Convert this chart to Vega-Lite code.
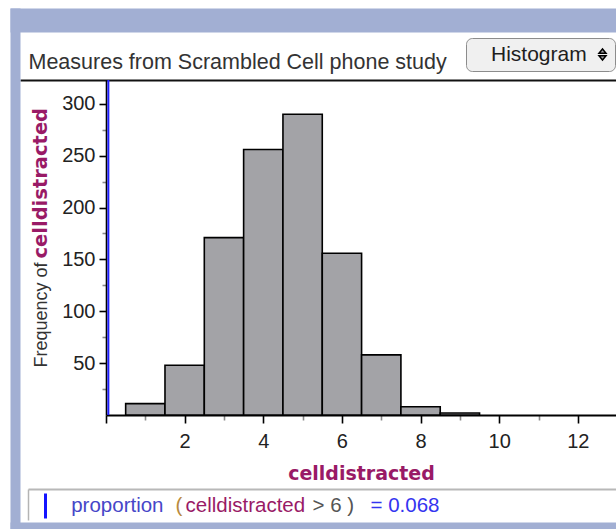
{
  "$schema": "https://vega.github.io/schema/vega-lite/v6.json",
  "width": 510,
  "height": 335,
  "autosize": {"type": "none"},
  "padding": {"left": 106, "top": 80, "right": 0, "bottom": 114},
  "background": "white",
  "config": {"view": {"stroke": null}},
  "resolve": {"scale": {"x": "independent", "y": "independent"}},
  "datasets": {
    "bins": [
      {"bin_start": 0.5, "bin_end": 1.5, "count": 11},
      {"bin_start": 1.5, "bin_end": 2.5, "count": 48},
      {"bin_start": 2.5, "bin_end": 3.5, "count": 171},
      {"bin_start": 3.5, "bin_end": 4.5, "count": 256},
      {"bin_start": 4.5, "bin_end": 5.5, "count": 290},
      {"bin_start": 5.5, "bin_end": 6.5, "count": 156},
      {"bin_start": 6.5, "bin_end": 7.5, "count": 58},
      {"bin_start": 7.5, "bin_end": 8.5, "count": 8},
      {"bin_start": 8.5, "bin_end": 9.5, "count": 2}
    ],
    "marker": [{"marker": 0.06}]
  },
  "layer": [
    {
      "data": {"name": "bins"},
      "mark": {"type": "bar", "stroke": "#000000", "strokeWidth": 1.6},
      "encoding": {
        "x": {
          "field": "bin_start", "type": "quantitative",
          "scale": {"domain": [0, 12.97], "nice": false, "zero": false},
          "axis": {
            "orient": "bottom",
            "values": [0, 1, 2, 3, 4, 5, 6, 7, 8, 9, 10, 11, 12, 1.45, 1.755, 2.009, 5.239, 6.714],
            "labelExpr": "datum.value == 1.45 ? 'proportion' : datum.value == 1.755 ? '(' : datum.value == 2.009 ? 'celldistracted' : datum.value == 5.239 ? '> 6 )' : datum.value == 6.714 ? '= 0.068' : (datum.value > 0 && datum.value % 2 == 0 ? format(datum.value, 'd') : '')",
            "labelOverlap": false,
            "labelFlush": false,
            "labelBound": false,
            "grid": false,
            "domainColor": "#000000",
            "domainWidth": 2,
            "tickColor": {"condition": {"test": "datum.value % 2 == 0", "value": "#000000"}, "value": "#8a8a8a"},
            "tickSize": {"condition": [{"test": "datum.value % 1 != 0", "value": 0}, {"test": "datum.value % 2 == 0", "value": 8}], "value": 5},
            "tickOpacity": {"condition": {"test": "datum.value % 1 != 0", "value": 0}, "value": 1},
            "tickWidth": 1.6,
            "labelFont": "Liberation Sans",
            "labelFontSize": {"condition": {"test": "datum.value % 1 != 0", "value": 20.5}, "value": 20},
            "labelColor": {"condition": [
              {"test": "datum.value == 1.45", "value": "#4646c8"},
              {"test": "datum.value == 1.755", "value": "#b88a40"},
              {"test": "datum.value == 2.009", "value": "#991a66"},
              {"test": "datum.value == 5.239", "value": "#555555"},
              {"test": "datum.value == 6.714", "value": "#3434f0"}
            ], "value": "#222222"},
            "labelAlign": {"condition": [{"test": "datum.value == 1.45", "value": "right"}, {"test": "datum.value % 1 != 0", "value": "left"}], "value": "center"},
            "labelBaseline": {"condition": {"test": "datum.value % 1 != 0", "value": "alphabetic"}, "value": "top"},
            "labelPadding": {"condition": {"test": "datum.value % 1 != 0", "value": 96}, "value": 8},
            "title": "celldistracted",
            "titleFont": "DejaVu Sans",
            "titleFontWeight": "bold",
            "titleFontSize": 19,
            "titleColor": "#991a66",
            "titleX": 255,
            "titleY": 64,
            "titleAlign": "center",
            "titleBaseline": "alphabetic"
          }
        },
        "x2": {"field": "bin_end"},
        "y": {
          "field": "count", "type": "quantitative",
          "scale": {"domain": [0, 323], "nice": false},
          "axis": {
            "orient": "left",
            "values": [25, 50, 75, 100, 125, 150, 175, 200, 225, 250, 275, 300],
            "labelExpr": "datum.value % 50 == 0 ? format(datum.value, 'd') : ''",
            "grid": false,
            "domainColor": "#000000",
            "domainWidth": 1.6,
            "tickColor": {"condition": {"test": "datum.value % 50 == 0", "value": "#000000"}, "value": "#8a8a8a"},
            "tickSize": {"condition": {"test": "datum.value % 50 == 0", "value": 7}, "value": 4},
            "tickWidth": 1.6,
            "labelFont": "Liberation Sans",
            "labelFontSize": 20,
            "labelColor": "#222222",
            "labelPadding": 4,
            "title": "celldistracted",
            "titleFont": "DejaVu Sans",
            "titleFontWeight": "bold",
            "titleFontSize": 19.5,
            "titleColor": "#991a66",
            "titleAngle": -90,
            "titleAlign": "left",
            "titleBaseline": "alphabetic",
            "titleX": -60,
            "titleY": 178
          }
        },
        "y2": {"datum": 0},
        "color": {
          "datum": "Histogram",
          "scale": {"range": ["#a3a3a7"]},
          "legend": {
            "orient": "none",
            "legendX": 360,
            "legendY": -42,
            "title": null,
            "fillColor": "#f0f0f0",
            "strokeColor": "#8c8c8c",
            "cornerRadius": 6,
            "padding": 6,
            "labelFont": "Liberation Sans",
            "labelFontSize": 21,
            "labelColor": "#1e1e1e",
            "labelOffset": -122,
            "symbolType": "M-0.7,-0.25L0,-1.1L0.7,-0.25Z M-0.7,0.25L0,1.1L0.7,0.25Z",
            "symbolSize": 100,
            "symbolOffset": 120,
            "encode": {"symbols": {"update": {"fill": {"value": "#333333"}, "stroke": {"value": "#333333"}, "strokeWidth": {"value": 0.5}}}}
          }
        }
      }
    },
    {
      "data": {"name": "marker"},
      "mark": {"type": "rule", "color": "#1e1eff", "strokeWidth": 2},
      "encoding": {
        "x": {
          "field": "marker", "type": "quantitative",
          "scale": {"domain": [-2.187, 12.97], "range": [-86, 510], "nice": false, "zero": false},
          "axis": {
            "orient": "top",
            "labels": false,
            "ticks": false,
            "grid": false,
            "domainColor": "#111111",
            "domainWidth": 2,
            "title": "Measures from Scrambled Cell phone study",
            "titleFont": "Liberation Sans",
            "titleFontSize": 21.5,
            "titleFontWeight": "normal",
            "titleColor": "#333333",
            "titleAngle": 0,
            "titleX": -78,
            "titleY": -12,
            "titleAlign": "left",
            "titleBaseline": "alphabetic"
          }
        },
        "y": {
          "datum": 0, "type": "quantitative",
          "scale": {"domain": [-109.9, 392.4], "range": [449, -72], "nice": false, "zero": false},
          "axis": {
            "orient": "left",
            "offset": 91,
            "labels": false,
            "ticks": false,
            "grid": false,
            "domainColor": "#a2afd3",
            "domainWidth": 10,
            "title": "Frequency of",
            "titleFont": "Liberation Sans",
            "titleFontSize": 18,
            "titleFontWeight": "normal",
            "titleColor": "#333333",
            "titleAngle": -90,
            "titleAlign": "right",
            "titleBaseline": "alphabetic",
            "titleX": 31,
            "titleY": 182
          }
        },
        "y2": {"datum": 323}
      }
    },
    {
      "data": {"name": "marker"},
      "mark": {"type": "rule", "opacity": 0},
      "encoding": {
        "x": {
          "field": "marker", "type": "quantitative",
          "scale": {"domain": [0, 1], "range": [-96, 510], "nice": false, "zero": false},
          "axis": {"orient": "top", "offset": 60, "labels": false, "ticks": false, "grid": false, "domainColor": "#a2afd3", "domainWidth": 24, "title": null}
        }
      }
    },
    {
      "data": {"name": "marker"},
      "mark": {"type": "rule", "opacity": 0},
      "encoding": {
        "x": {
          "field": "marker", "type": "quantitative",
          "scale": {"domain": [0, 1], "range": [-96, 510], "nice": false, "zero": false},
          "axis": {"orient": "bottom", "offset": 110.5, "labels": false, "ticks": false, "grid": false, "domainColor": "#a2afd3", "domainWidth": 7, "title": null}
        },
        "y": {
          "datum": 0, "type": "quantitative",
          "scale": {"domain": [0, 1], "range": [440, 409], "nice": false, "zero": false},
          "axis": {"orient": "left", "offset": 78, "labels": false, "ticks": false, "grid": false, "domainColor": "#b4b4b4", "domainWidth": 1.5, "title": null}
        }
      }
    },
    {
      "data": {"name": "marker"},
      "mark": {"type": "rule", "opacity": 0},
      "encoding": {
        "x": {
          "field": "marker", "type": "quantitative",
          "scale": {"domain": [0, 1], "range": [-78, 510], "nice": false, "zero": false},
          "axis": {"orient": "bottom", "offset": 74, "labels": false, "ticks": false, "grid": false, "domainColor": "#b8b8b8", "domainWidth": 2, "title": null}
        },
        "y": {
          "datum": 0, "type": "quantitative",
          "scale": {"domain": [0, 1], "range": [438, 413], "nice": false, "zero": false},
          "axis": {"orient": "left", "offset": 61, "labels": false, "ticks": false, "grid": false, "domainColor": "#1414ff", "domainWidth": 3, "title": null}
        }
      }
    }
  ]
}
